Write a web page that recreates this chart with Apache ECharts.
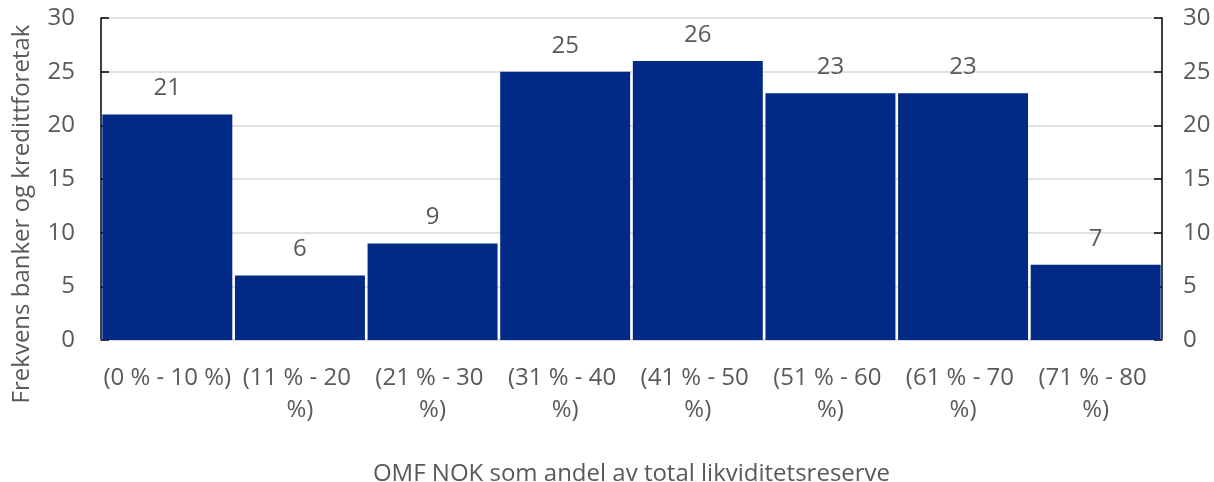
<!DOCTYPE html>
<html>
<head>
<meta charset="utf-8">
<script src="https://cdn.jsdelivr.net/npm/echarts@6/dist/echarts.min.js"></script>
<style>
  html, body { margin: 0; padding: 0; background: #fff; }
  #chart { width: 1214px; height: 482px; }
</style>
</head>
<body>
<div id="chart"></div>
<script>
// intervaller (andel OMF NOK av likviditetsreserve)
const categories = ['(0 % - 10 %)', '(11 % - 20 %)', '(21 % - 30 %)', '(31 % - 40 %)',
                    '(41 % - 50 %)', '(51 % - 60 %)', '(61 % - 70 %)', '(71 % - 80 %)'];
const frequency = [21, 6, 9, 25, 26, 23, 23, 7];
const yTicks = { min: 0, max: 30, interval: 5 };

const xTitle = 'OMF NOK som andel av total likviditetsreserve';
const yTitle = 'Frekvens banker og kredittforetak';

const textColor = '#595959';
const fontFamily = '"Open Sans", sans-serif';

const myChart = echarts.init(document.getElementById('chart'));

const valueAxis = (pos, margin) => ({
  type: 'value',
  position: pos,
  min: yTicks.min,
  max: yTicks.max,
  interval: yTicks.interval,
  axisLine: { show: true, lineStyle: { color: '#000', width: 1.5 } },
  axisTick: { show: true, inside: true, length: 8, lineStyle: { color: '#000', width: 1.5 } },
  axisLabel: { color: textColor, fontSize: 24, fontFamily: fontFamily, margin: margin },
  splitLine: { show: pos === 'left', lineStyle: { color: '#d9d9d9', width: 1.5 } }
});

const option = {
  animation: false,
  grid: { left: 101, right: 52, top: 18, bottom: 142, containLabel: false, outerBoundsMode: 'none' },
  graphic: [{
    type: 'text',
    x: 22, y: 214,
    rotation: Math.PI / 2,
    style: {
      text: yTitle,
      fill: textColor,
      font: '24px "Open Sans", sans-serif',
      textAlign: 'center',
      textVerticalAlign: 'middle'
    }
  }],
  xAxis: {
    type: 'category',
    data: categories,
    name: xTitle,
    nameLocation: 'middle',
    nameGap: 122,
    nameTextStyle: { color: textColor, fontSize: 24, fontFamily: fontFamily },
    axisLine: { show: true, lineStyle: { color: '#d9d9d9', width: 1.5 } },
    axisTick: { show: false },
    axisLabel: {
      color: textColor, fontSize: 24, fontFamily: fontFamily,
      margin: 22, interval: 0, width: 132, overflow: 'break', lineHeight: 32
    }
  },
  yAxis: [valueAxis('left', 26), valueAxis('right', 21)],
  series: [{
    type: 'bar',
    data: frequency,
    barCategoryGap: '2%',
    itemStyle: { color: '#002a85' },
    label: {
      show: true,
      position: 'top',
      distance: 14,
      color: textColor,
      fontSize: 24,
      fontFamily: fontFamily
    }
  }]
};

myChart.setOption(option);
</script>
</body>
</html>
